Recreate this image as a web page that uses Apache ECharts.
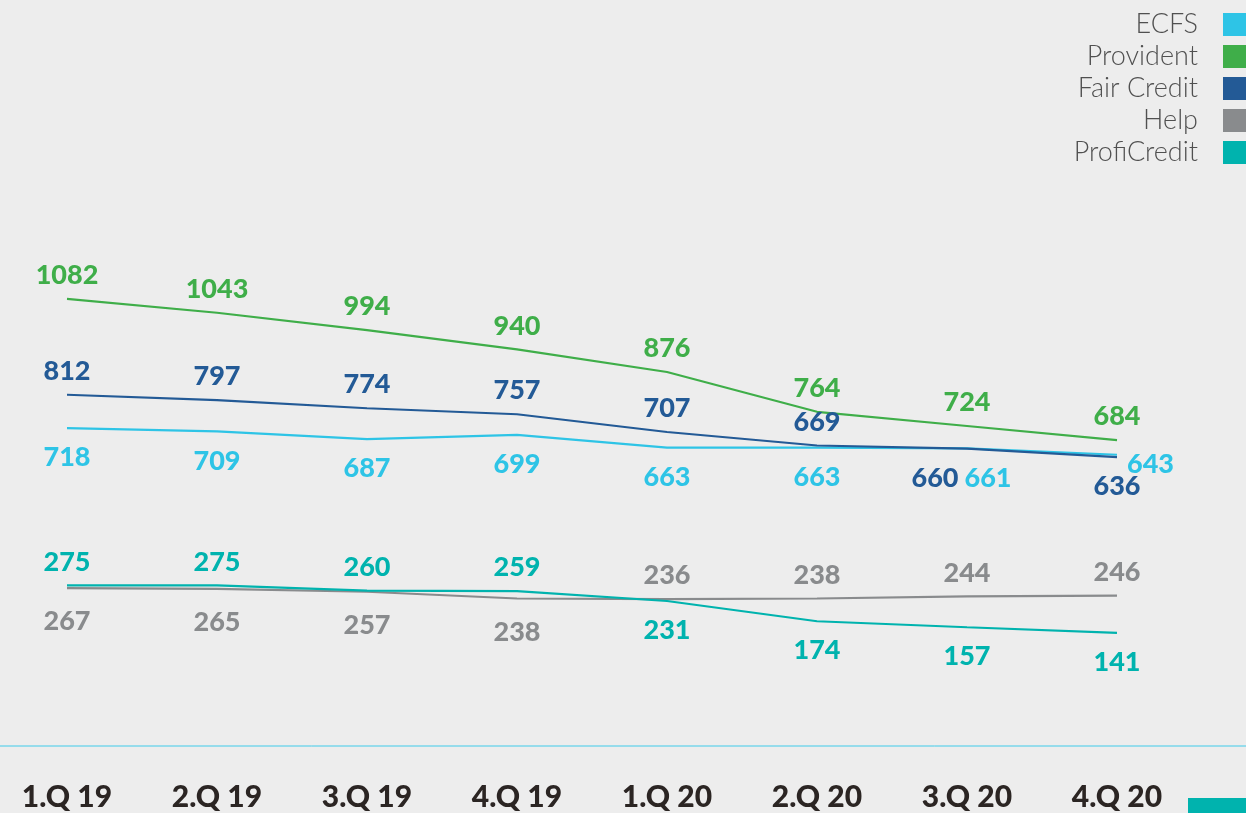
<!DOCTYPE html>
<html>
<head>
<meta charset="utf-8">
<script src="https://cdn.jsdelivr.net/npm/echarts@6/dist/echarts.min.js"></script>
<style>
html,body{margin:0;padding:0;background:#ededed;}
#chart{width:1246px;height:813px;}
</style>
</head>
<body>
<div id="chart"></div>
<script>
const categories = ['1.Q 19','2.Q 19','3.Q 19','4.Q 19','1.Q 20','2.Q 20','3.Q 20','4.Q 20'];
const seriesNames = ['ECFS','Provident','Fair Credit','Help','ProfiCredit'];
const ecfs = [718,709,687,699,663,663,661,643];
const provident = [1082,1043,994,940,876,764,724,684];
const fairCredit = [812,797,774,757,707,669,660,636];
const helpData = [267,265,257,238,236,238,244,246];
const profiCredit = [275,275,260,259,231,174,157,141];

const colors = {
  'ECFS':'#2ec4e6',
  'Provident':'#3fae49',
  'Fair Credit':'#235a96',
  'Help':'#898b8d',
  'ProfiCredit':'#00b3ae'
};

const chart = echarts.init(document.getElementById('chart'));

function labelFor(name, i){
  const up = {position:'top', distance:10};
  const down = {position:'bottom', distance:16};
  if(name==='Provident') return up;
  if(name==='Fair Credit'){
    if(i===6) return {position:'bottom', distance:16, offset:[-32,0]};
    if(i===7) return down;
    return up;
  }
  if(name==='ECFS'){
    if(i===6) return {position:'bottom', distance:16, offset:[21,0]};
    if(i===7) return {position:'right', distance:10, offset:[0,10]};
    return down;
  }
  if(name==='Help') return i<4 ? {position:'bottom', distance:20} : up;
  if(name==='ProfiCredit') return i<4 ? up : down;
  return up;
}

function makeSeries(name, values){
  return {
    name: name,
    type: 'line',
    data: values.map((v,i)=>({value:v, label:labelFor(name,i)})),
    symbol: 'circle',
    symbolSize: 0,
    showSymbol: true,
    lineStyle: {width: 2.2, color: colors[name]},
    itemStyle: {color: colors[name]},
    label: {
      show: true,
      color: colors[name],
      fontFamily: 'Lato',
      fontWeight: 900,
      fontSize: 27
    },
    emphasis: {disabled: true}
  };
}

const option = {
  backgroundColor: '#ededed',
  animation: false,
  legend: {
    orient: 'vertical',
    right: 0,
    top: 11,
    align: 'right',
    itemWidth: 23,
    itemHeight: 23,
    itemGap: 5,
    icon: 'rect',
    padding: 0,
    data: seriesNames,
    textStyle: {
      fontFamily: 'Lato',
      fontWeight: 300,
      fontSize: 27,
      color: '#505050',
      padding: [0, 20, 0, 0]
    },
    selectedMode: false
  },
  grid: {left: 67, right: 129, top: 292.5, bottom: 130},
  xAxis: {
    type: 'category',
    data: categories,
    boundaryGap: false,
    axisLine: {show: false},
    axisTick: {show: false},
    splitLine: {show: false},
    axisLabel: {
      margin: 99,
      color: '#2b2523',
      fontFamily: 'Lato',
      fontWeight: 900,
      fontSize: 30,
      interval: 0
    }
  },
  yAxis: {
    type: 'value',
    min: 0,
    max: 1100,
    show: false,
    splitLine: {show: false}
  },
  graphic: [
    {type:'line', shape:{x1:0, y1:746, x2:1246, y2:746}, style:{stroke:'#3ecbea', lineWidth:1}},
    {type:'rect', shape:{x:1188, y:798, width:58, height:15}, style:{fill:'#00b3ae'}}
  ],
  series: [
    makeSeries('ECFS', ecfs),
    makeSeries('Provident', provident),
    makeSeries('Help', helpData),
    makeSeries('ProfiCredit', profiCredit),
    makeSeries('Fair Credit', fairCredit)
  ]
};
chart.setOption(option);
</script>
</body>
</html>
